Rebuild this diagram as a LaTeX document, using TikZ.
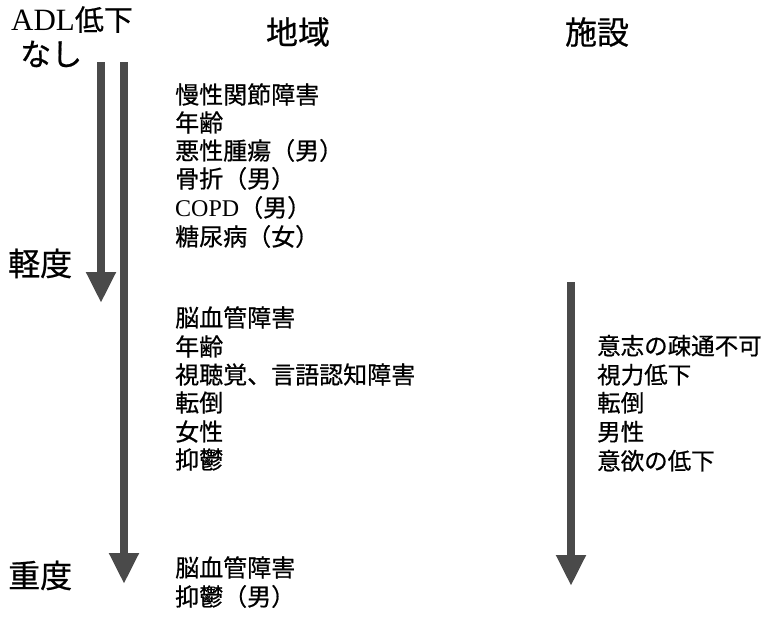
\documentclass[tikz,border=0pt]{standalone}
\usepackage{fontspec}
\setmainfont{Liberation Serif}
\newfontfamily\jp[FakeBold=0.6]{Noto Sans CJK JP}
\usetikzlibrary{arrows.meta}
\definecolor{arrowgray}{HTML}{4A4A4A}
\tikzset{
  item/.style={anchor=west, inner sep=0pt, font=\jp\fontsize{24}{28}\selectfont, text height=0.86em, text depth=0.14em},
  head/.style={anchor=center, inner sep=0pt, font=\jp\fontsize{32}{36}\selectfont},
  level/.style={anchor=west, inner sep=0pt, font=\jp\fontsize{32}{36}\selectfont, text height=0.86em, text depth=0.14em},
  bigarrow/.style={draw=arrowgray, line width=8pt, -{Triangle[width=28pt, length=31pt, fill=arrowgray]}}
}
\begin{document}
\begin{tikzpicture}[x=1pt, y=-1pt]
\useasboundingbox (0,0) rectangle (766,619);
% left labels
\node[anchor=west, inner sep=0pt, font=\fontsize{31}{36}\selectfont, text height=0.72em, text depth=0.02em] (adl) at (11,27) {ADL\jp\fontsize{29}{34}\selectfont 低下};
\node[level, font=\jp\fontsize{31}{36}\selectfont] (nashi) at (20,62) {なし};
\node[level] (kei) at (8,272) {軽度};
\node[level] (ju) at (8,584) {重度};
% headings
\node[head] (chiiki) at (298,32) {地域};
\node[head] (shisetsu) at (597,32) {施設};
% arrows
\coordinate (a1s) at (101,62);
\coordinate (a1e) at (101,303);
\coordinate (a2s) at (124,62);
\coordinate (a2e) at (124,584);
\coordinate (a3s) at (571,282);
\coordinate (a3e) at (571,586);
\draw[bigarrow] (a1s) -- (a1e);
\draw[bigarrow] (a2s) -- (a2e);
\draw[bigarrow] (a3s) -- (a3e);
% list 1
\node[item] (l11) at (175,100) {慢性関節障害};
\node[item] (l12) at (175,128) {年齢};
\node[item] (l13) at (175,156) {悪性腫瘍（男）};
\node[item] (l14) at (175,184) {骨折（男）};
\node[item] (l15) at (175,213) {\rmfamily COPD\jp（男）};
\node[item] (l16) at (175,242) {糖尿病（女）};
% list 2
\node[item] (l21) at (175,323) {脳血管障害};
\node[item] (l22) at (175,352) {年齢};
\node[item] (l23) at (175,380) {視聴覚、言語認知障害};
\node[item] (l24) at (175,408) {転倒};
\node[item] (l25) at (175,437) {女性};
\node[item] (l26) at (175,465) {抑鬱};
% list 3
\node[item] (l31) at (175,573) {脳血管障害};
\node[item] (l32) at (175,602) {抑鬱（男）};
% facility list
\node[item, font=\jp\fontsize{23.5}{28}\selectfont] (s1) at (597,351) {意志の疎通不可};
\node[item, font=\jp\fontsize{23.5}{28}\selectfont] (s2) at (597,380) {視力低下};
\node[item, font=\jp\fontsize{23.5}{28}\selectfont] (s3) at (597,408) {転倒};
\node[item, font=\jp\fontsize{23.5}{28}\selectfont] (s4) at (597,437) {男性};
\node[item, font=\jp\fontsize{23.5}{28}\selectfont] (s5) at (597,466) {意欲の低下};
\end{tikzpicture}
\end{document}
